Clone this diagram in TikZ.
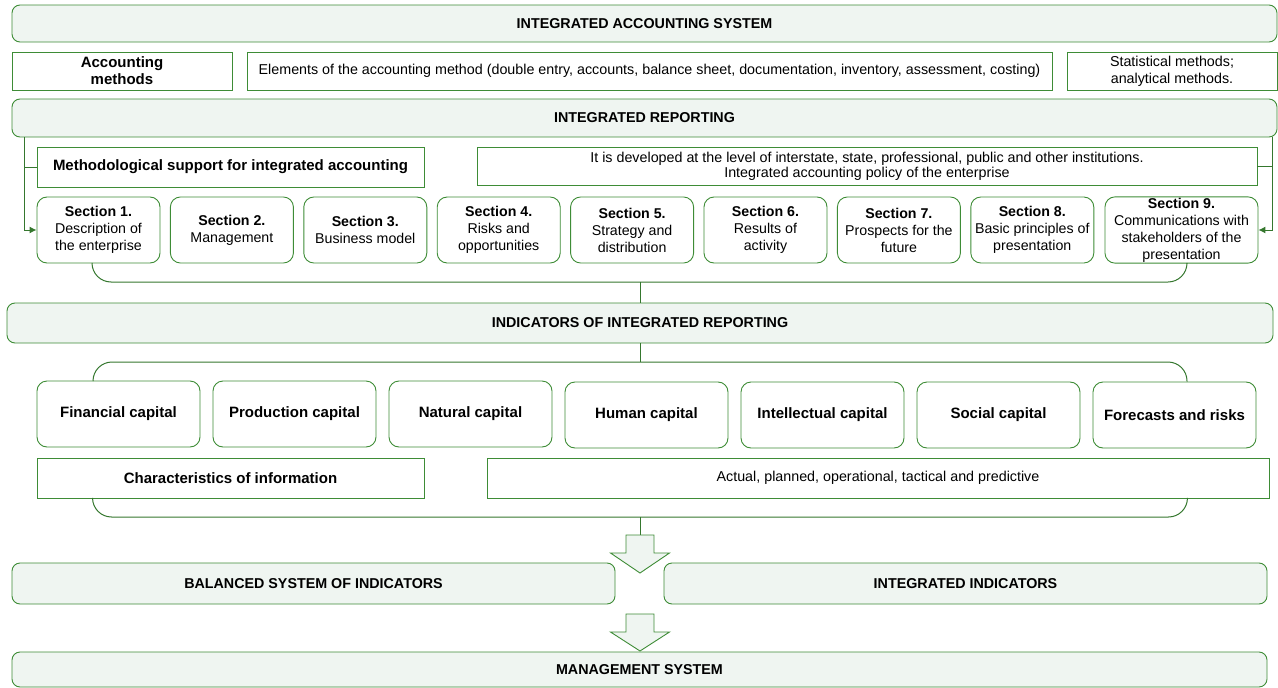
\documentclass[tikz,border=0pt]{standalone}
\usepackage{fontspec}
\setmainfont{Liberation Sans}
\usetikzlibrary{arrows.meta}

\definecolor{liniengruen}{RGB}{62,140,54}
\definecolor{kastengruen}{RGB}{239,245,241}

\tikzset{
	kopf/.style={draw=liniengruen, fill=kastengruen, line width=0.9pt, rounded corners=8pt,
		inner sep=2pt, font=\fontsize{14.3}{16}\selectfont\bfseries},
	feld/.style={draw=liniengruen, fill=white, line width=0.9pt, align=center,
		inner sep=2pt, font=\fontsize{14.3}{17}\selectfont},
	fettfeld/.style={feld, font=\fontsize{15}{17}\selectfont\bfseries},
	teil/.style={draw=liniengruen, fill=white, line width=0.9pt, rounded corners=10pt, align=center,
		inner sep=1pt, minimum width=123pt, minimum height=66pt, font=\fontsize{14.2}{17}\selectfont},
	kapital/.style={draw=liniengruen, fill=white, line width=0.9pt, rounded corners=10pt,
		inner sep=2pt, minimum width=163pt, minimum height=66pt, font=\fontsize{15}{17}\selectfont\bfseries},
	linie/.style={draw=liniengruen!85!black, line width=1pt},
	blockpfeil/.style={draw=liniengruen, fill=kastengruen, line width=0.9pt}
}

\begin{document}
\begin{tikzpicture}[x=1pt, y=-1pt]
	\useasboundingbox (0, 0) rectangle (1278, 688);
	% Oberer Teil
	\node[kopf, minimum width=1265pt, minimum height=37pt] (ias) at (644.5, 23.5) {INTEGRATED ACCOUNTING SYSTEM};
	\node[fettfeld, minimum width=220pt, minimum height=38pt] (acm) at (122, 71) {Accounting\\methods};
	\node[feld, minimum width=805pt, minimum height=38pt] (elm) at (649.5, 71) {Elements of the accounting method (double entry, accounts, balance sheet, documentation, inventory, assessment, costing)};
	\node[feld, minimum width=210pt, minimum height=38pt] (stm) at (1172, 71) {Statistical methods;\\analytical methods.};
	\node[kopf, minimum width=1265pt, minimum height=38pt] (ir) at (644.5, 118) {INTEGRATED REPORTING};
	\node[fettfeld, minimum width=387pt, minimum height=40pt] (meth) at (230.5, 167) {Methodological support for integrated accounting};
	\node[feld, minimum width=780pt, minimum height=38pt, font=\fontsize{14.3}{15}\selectfont] (dev) at (867, 166) {It is developed at the level of interstate, state, professional, public and other institutions.\\Integrated accounting policy of the enterprise};
	% Abschnitte
	\node[teil] (s1) at (98.5, 230) {\textbf{Section 1.}\\Description of\\the enterprise};
	\node[teil] (s2) at (231.9, 230) {\textbf{Section 2.}\\Management};
	\node[teil] (s3) at (365.3, 230) {\textbf{Section 3.}\\Business model};
	\node[teil] (s4) at (498.7, 230) {\textbf{Section 4.}\\Risks and\\opportunities};
	\node[teil] (s5) at (632.1, 230) {\textbf{Section 5.}\\Strategy and\\distribution};
	\node[teil] (s6) at (765.5, 230) {\textbf{Section 6.}\\Results of\\activity};
	\node[teil] (s7) at (898.9, 230) {\textbf{Section 7.}\\Prospects for the\\future};
	\node[teil] (s8) at (1032.3, 230) {\textbf{Section 8.}\\Basic principles of\\presentation};
	\node[teil, minimum width=153pt] (s9) at (1181.5, 230) {\textbf{Section 9.}\\Communications with\\stakeholders of the\\presentation};
	% Seitliche Pfeile
	\coordinate (li) at ([xshift=13pt]ir.south west);
	\coordinate (re) at ([xshift=-5pt]ir.south east);
	\draw[linie, -{Latex[length=7pt, width=7pt]}] (li) |- (s1.west);
	\draw[linie] (li |- meth.west) -- (meth.west);
	\draw[linie, -{Latex[length=7pt, width=7pt]}] (re) |- (s9.east);
	\draw[linie] (re |- dev.east) -- (dev.east);
	% Klammer unter den Abschnitten
	\coordinate (kl1) at (640, 282);
	\draw[linie, rounded corners=19pt] ([xshift=-6.5pt]s1.south) |- (kl1) -| ([xshift=5.5pt]s9.south);
	% Kennzahlen
	\node[kopf, minimum width=1266pt, minimum height=40pt] (ind) at (640, 323) {INDICATORS OF INTEGRATED REPORTING};
	\draw[linie] (kl1) -- (ind.north);
	\node[kapital] (k1) at (118.5, 414) {Financial capital};
	\node[kapital] (k2) at (294.5, 414) {Production capital};
	\node[kapital] (k3) at (470.5, 414) {Natural capital};
	\node[kapital] (k4) at (646.5, 415) {Human capital};
	\node[kapital] (k5) at (822.5, 415) {Intellectual capital};
	\node[kapital] (k6) at (998.5, 415) {Social capital};
	\node[kapital] (k7) at (1174.5, 415) {Forecasts and risks};
	\node[fettfeld, minimum width=387pt, minimum height=40pt] (chr) at (230.5, 478) {Characteristics of information};
	\node[feld, minimum width=782pt, minimum height=40pt] (act) at (878, 478) {Actual, planned, operational, tactical and predictive};
	% Klammern um die Kapitalarten
	\coordinate (kl2) at (640, 362);
	\coordinate (kl3) at (640, 517);
	\draw[linie] (ind.south) -- (kl2);
	\draw[linie, rounded corners=19pt] ([xshift=-25.5pt]k1.north) |- (kl2) -| ([xshift=12.5pt]k7.north);
	\draw[linie, rounded corners=19pt] ([xshift=56pt]chr.south west) |- (kl3) -| ([xshift=-82pt]act.south east);
	% Unterer Teil
	\node[kopf, minimum width=603pt, minimum height=41pt] (bsi) at (313.5, 583.5) {BALANCED SYSTEM OF INDICATORS};
	\node[kopf, minimum width=603pt, minimum height=41pt] (iin) at (965.5, 583.5) {INTEGRATED INDICATORS};
	\node[kopf, minimum width=1255pt, minimum height=35pt] (ms) at (639.5, 669.5) {MANAGEMENT SYSTEM};
	\coordinate (pf1) at (640, 535);
	\coordinate (pf2) at (640, 614);
	\draw[linie] (kl3) -- (pf1);
	\draw[blockpfeil] (pf1) -- ++(14, 0) -- ++(0, 18) -- ++(15.5, 0) -- ++(-29.5, 20) -- ++(-29.5, -20) -- ++(15.5, 0) -- ++(0, -18) -- cycle;
	\draw[blockpfeil] (pf2) -- ++(14, 0) -- ++(0, 18) -- ++(15.5, 0) -- ++(-29.5, 19) -- ++(-29.5, -19) -- ++(15.5, 0) -- ++(0, -18) -- cycle;
\end{tikzpicture}
\end{document}
